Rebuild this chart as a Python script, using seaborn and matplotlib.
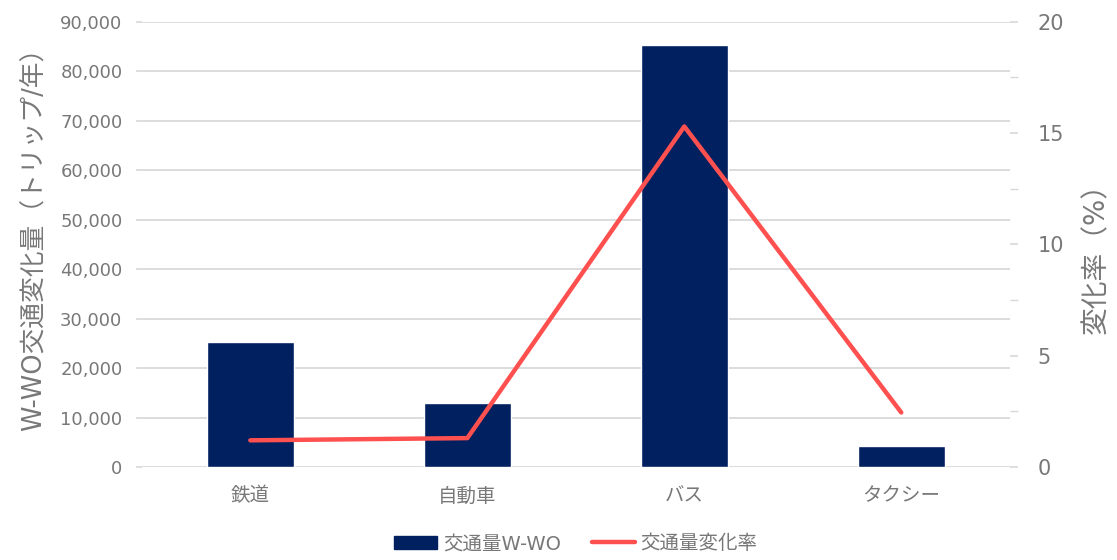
import matplotlib
matplotlib.use("Agg")
import matplotlib.pyplot as plt
import seaborn as sns
import pandas as pd
from matplotlib.ticker import FuncFormatter, MultipleLocator
from matplotlib.patches import Patch
from matplotlib.lines import Line2D

categories = ["鉄道", "自動車", "バス", "タクシー"]
traffic_diff = [25300, 13000, 85400, 4300]
change_rate = [1.2, 1.3, 15.3, 2.45]

bar_color = "#002060"
line_color = "#FF5050"
text_color = "#787878"
grid_color = "#D9D9D9"

sns.set_theme(style="white")
plt.rcParams["font.family"] = ["DejaVu Sans", "Noto Sans CJK JP"]

df = pd.DataFrame({"cat": categories, "diff": traffic_diff, "rate": change_rate})

fig = plt.figure(figsize=(11.17, 5.60), dpi=100)
ax = fig.add_axes([0.127, 0.166, 0.777, 0.795])

sns.barplot(data=df, x="cat", y="diff", color=bar_color, width=0.4,
            saturation=1, ax=ax, zorder=3)
ax.set_ylim(0, 90000)
ax.yaxis.set_major_locator(MultipleLocator(10000))
ax.yaxis.set_major_formatter(FuncFormatter(lambda v, p: f"{int(v):,}"))
ax.grid(axis="y", color=grid_color, linewidth=1.3, zorder=0)
ax.set_axisbelow(True)
for s in ax.spines.values():
    s.set_visible(False)
ax.tick_params(axis="y", colors=text_color, labelsize=13, length=4,
               color=grid_color, left=True, pad=10)
ax.tick_params(axis="x", colors=text_color, labelsize=14, length=0, pad=14)
ax.set_xlabel("")
ax.set_ylabel("W-WO交通変化量（トリップ/年）", color=text_color, fontsize=18.5)
ax.yaxis.set_label_coords(-0.11, 0.525)
ax.set_xlim(-0.5, 3.5)

ax2 = ax.twinx()
sns.lineplot(x=list(range(len(categories))), y=change_rate, ax=ax2,
             color=line_color, linewidth=3.2, zorder=4)
ax2.set_ylim(0, 20)
ax2.yaxis.set_major_locator(MultipleLocator(5))
ax2.yaxis.set_minor_locator(MultipleLocator(2.5))
for s in ax2.spines.values():
    s.set_visible(False)
ax2.tick_params(axis="y", which="major", colors=text_color, labelsize=15,
                length=6, color=grid_color, right=True, pad=14)
ax2.tick_params(axis="y", which="minor", length=6, color=grid_color, right=True)
ax2.set_ylabel("変化率（%）", color=text_color, fontsize=20)
ax2.yaxis.set_label_coords(1.083, 0.485)
ax2.grid(False)

handles = [Patch(facecolor=bar_color, edgecolor=bar_color),
           Line2D([0], [0], color=line_color, linewidth=3.2)]
labels = ["交通量W-WO", "交通量変化率"]
leg = ax.legend(handles, labels, loc="center", bbox_to_anchor=(0.5, -0.172),
                ncol=2, frameon=False, fontsize=14, handlelength=2.2,
                handletextpad=0.3, columnspacing=1.6)
for t in leg.get_texts():
    t.set_color(text_color)

fig.savefig("out.png", dpi=100)
